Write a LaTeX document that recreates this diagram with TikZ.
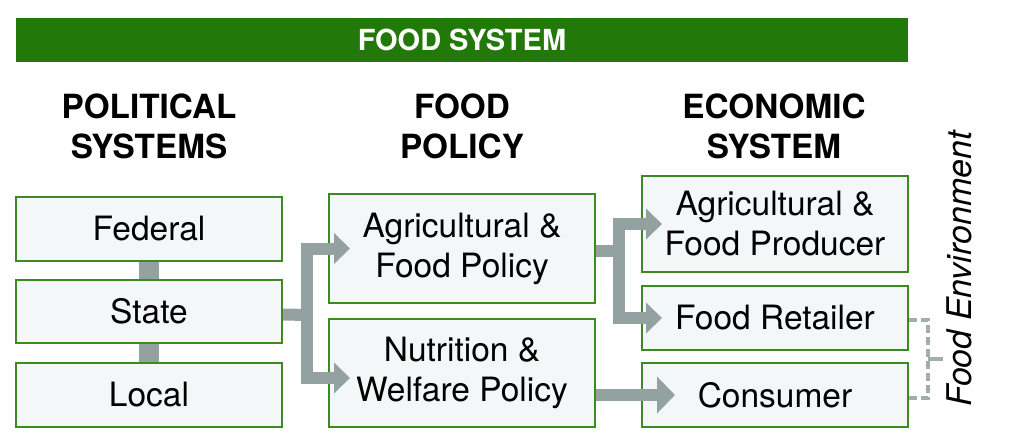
\documentclass[tikz,border=0pt]{standalone}
\usepackage{fontspec}
\setmainfont{TeX Gyre Heros}
\usetikzlibrary{arrows.meta}
\definecolor{bannergreen}{HTML}{23780A}
\definecolor{boxgreen}{HTML}{3B8A22}
\definecolor{boxfill}{HTML}{F4F7F8}
\definecolor{arrowgray}{HTML}{93A2A0}
\definecolor{dashgray}{HTML}{A2AEAD}
\begin{document}
\begin{tikzpicture}[x=1pt,y=-1pt,
  box/.style={draw=boxgreen, line width=2pt, fill=boxfill, minimum width=266pt,
    align=center, font=\fontsize{33.5}{40}\selectfont, inner sep=0pt},
  heading/.style={font=\fontsize{33.3}{40}\selectfont\bfseries, align=center},
  flow/.style={draw=arrowgray, line width=12pt},
  tip/.style={-{Triangle[length=16pt,width=30pt]}},
  bigtip/.style={-{Triangle[length=18pt,width=36pt]}},
  bracket/.style={draw=dashgray, line width=3.5pt, dash pattern=on 8pt off 4pt},
]
\useasboundingbox (0,0) rectangle (1013,447);
\node[fill=bannergreen, minimum width=892pt, minimum height=44pt, inner sep=0pt,
  text=white, font=\fontsize{29}{32}\selectfont\bfseries] (banner) at (462,40) {FOOD SYSTEM};

\node[heading] (h1) at (149,126) {POLITICAL\\SYSTEMS};
\node[heading] (h2) at (462,126) {FOOD\\POLICY};
\node[heading] (h3) at (774,126) {ECONOMIC\\SYSTEM};

\node[box, minimum height=64pt] (fed) at (149,229) {Federal};
\node[box, minimum height=63pt] (sta) at (149,311.5) {State};
\node[box, minimum height=64pt] (loc) at (149,395) {Local};

\node[box, minimum height=109pt] (agp) at (462,248.5) {Agricultural \&\\Food Policy};
\node[box, minimum height=108pt] (nut) at (462,373) {Nutrition \&\\Welfare Policy};

\node[box, minimum height=96pt] (pro) at (775,224) {Agricultural \&\\Food Producer};
\node[box, minimum height=64pt] (ret) at (775,318) {Food Retailer};
\node[box, minimum height=64pt] (con) at (775,395) {Consumer};

\draw[draw=arrowgray, line width=20pt] (fed.south) -- (sta.north);
\draw[draw=arrowgray, line width=20pt] (sta.south) -- (loc.north);

\coordinate (j1) at (307,315);
\draw[flow] ([yshift=-3pt]sta.east) -- (j1);
\draw[flow, tip] (j1) |- ([xshift=22pt]agp.west);
\draw[flow, tip] (j1) |- ([xshift=22pt,yshift=-5pt]nut.west);

\coordinate (j2) at (619,251);
\draw[flow] ([yshift=-2.5pt]agp.east) -- (j2);
\draw[flow, tip] (j2) |- ([xshift=21pt]pro.west);
\draw[flow, tip] (j2) |- ([xshift=21pt]ret.west);

\draw[flow, bigtip] (nut.east |- con.west) -- ([xshift=34pt]con.west);

\coordinate (b1) at (928,320);
\coordinate (b2) at (928,398);
\coordinate (bm) at (928,359);
\coordinate (bt) at (943,359);
\draw[bracket] ([yshift=-2pt]ret.east) -- (b1) -- (b2) -- ([yshift=-3pt]con.east);
\draw[draw=dashgray, line width=3.5pt] (bm) -- (bt);

\node[rotate=90, anchor=base, inner sep=0pt, font=\fontsize{34}{38}\selectfont\itshape] (fe) at (971,269) {Food Environment};
\end{tikzpicture}
\end{document}
